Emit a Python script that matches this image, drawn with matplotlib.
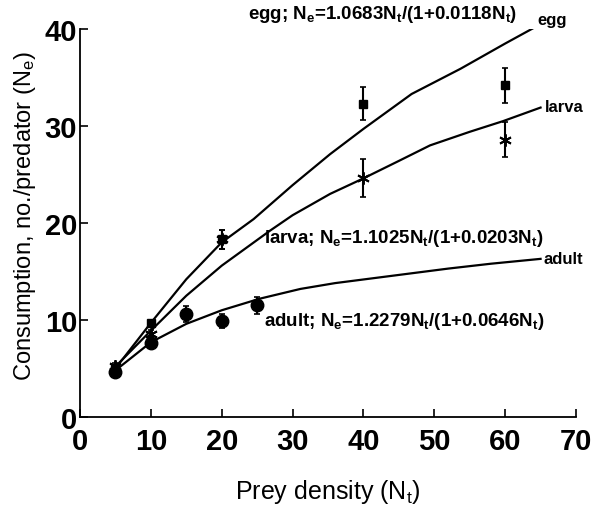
import matplotlib
matplotlib.use("Agg")
import matplotlib.pyplot as plt

plt.rcParams['font.family'] = ['Liberation Sans', 'DejaVu Sans']
plt.rcParams['mathtext.fontset'] = 'custom'
plt.rcParams['mathtext.rm'] = 'Liberation Sans'
plt.rcParams['mathtext.bf'] = 'Liberation Sans:bold'
plt.rcParams['mathtext.it'] = 'Liberation Sans'

# observed data
egg_x = [5, 10, 20, 40, 60]
egg_y = [5.0, 9.7, 18.3, 32.3, 34.2]
egg_err = [0.3, 0.3, 1.0, 1.7, 1.8]

larva_x = [5, 10, 20, 40, 60]
larva_y = [5.3, 8.6, 18.3, 24.6, 28.6]
larva_err = [0.3, 0.4, 1.0, 1.95, 1.8]

adult_x = [5, 10, 15, 20, 25]
adult_y = [4.6, 7.6, 10.6, 9.9, 11.5]
adult_err = [0.4, 0.5, 0.8, 0.7, 0.9]

# fitted curves
egg_cx = [5, 10, 15, 20, 24.5, 30, 35.3, 40, 46.8, 53.7, 60, 64]
egg_cy = [5.0, 9.7, 14.2, 18.0, 20.4, 23.9, 27.1, 29.7, 33.3, 35.9, 38.5, 40.1]
larva_cx = [5, 10, 15, 20, 26.8, 30, 35.3, 40, 45, 49.4, 55, 59.7, 65]
larva_cy = [5.2, 8.9, 12.5, 15.6, 19.2, 20.8, 23.0, 24.6, 26.4, 28.0, 29.4, 30.5, 31.9]
adult_cx = [5, 10, 15, 20, 25.4, 31.1, 36, 42.4, 52, 58, 65]
adult_cy = [4.8, 7.7, 9.6, 11.0, 12.2, 13.2, 13.8, 14.4, 15.3, 15.8, 16.3]

xticks = [0, 10, 20, 30, 40, 50, 60, 70]
yticks = [0, 10, 20, 30, 40]

fig = plt.figure(figsize=(5.91, 5.06), dpi=100)
ax = fig.add_axes([0.1354, 0.174, 0.8392, 0.7667])

lw = 1.6
ax.plot(egg_cx, egg_cy, color='black', lw=lw)
ax.plot(larva_cx, larva_cy, color='black', lw=lw)
ax.plot(adult_cx, adult_cy, color='black', lw=lw)

ax.errorbar(egg_x, egg_y, yerr=egg_err, fmt='s', color='black', ms=6,
            elinewidth=1.5, capsize=2, capthick=1.2)
ax.errorbar(larva_x, larva_y, yerr=larva_err, fmt='none', ecolor='black',
            elinewidth=1.5, capsize=2, capthick=1.2)
ax.plot(larva_x, larva_y, ls='none', marker=(6, 2, 0), color='black', ms=9, mew=1.4)
ax.errorbar(adult_x, adult_y, yerr=adult_err, fmt='o', color='black', ms=9,
            elinewidth=1.5, capsize=2, capthick=1.2)

ax.set_xlim(0, 70)
ax.set_ylim(0, 40)
ax.set_xticks(xticks)
ax.set_yticks(yticks)
ax.set_xticklabels([str(t) for t in xticks], fontsize=21, fontweight='bold')
ax.set_yticklabels([str(t) for t in yticks], fontsize=21, fontweight='bold')
ax.tick_params(direction='in', length=6, width=1.2)
ax.tick_params(axis='x', pad=7)
ax.tick_params(axis='y', pad=2)
for s in ['top', 'right']:
    ax.spines[s].set_visible(False)
for s in ['left', 'bottom']:
    ax.spines[s].set_linewidth(1.3)

ax.set_xlabel(r'Prey density (N$_{t}$)', fontsize=18, labelpad=16)
ax.set_ylabel(r'Consumption, no./predator (N$_{e}$)', fontsize=17)
ax.yaxis.set_label_coords(-0.085, 0.52)

tk = dict(fontsize=13.5, fontweight='bold', va='center', ha='left', clip_on=False)
lk = dict(fontsize=12, fontweight='bold', va='center', ha='left', clip_on=False)
ax.text(23.7, 41.6, r'egg; N$_{\mathbf{e}}$=1.0683N$_{\mathbf{t}}$/(1+0.0118N$_{\mathbf{t}}$)', **tk)
ax.text(64.6, 41.0, 'egg', **lk)
ax.text(65.6, 32.0, 'larva', **lk)
ax.text(26.0, 18.5, r'larva; N$_{\mathbf{e}}$=1.1025N$_{\mathbf{t}}$/(1+0.0203N$_{\mathbf{t}}$)', **tk)
ax.text(65.4, 16.3, 'adult', **lk)
ax.text(26.0, 9.9, r'adult; N$_{\mathbf{e}}$=1.2279N$_{\mathbf{t}}$/(1+0.0646N$_{\mathbf{t}}$)', **tk)

fig.savefig('out.png', dpi=100)
